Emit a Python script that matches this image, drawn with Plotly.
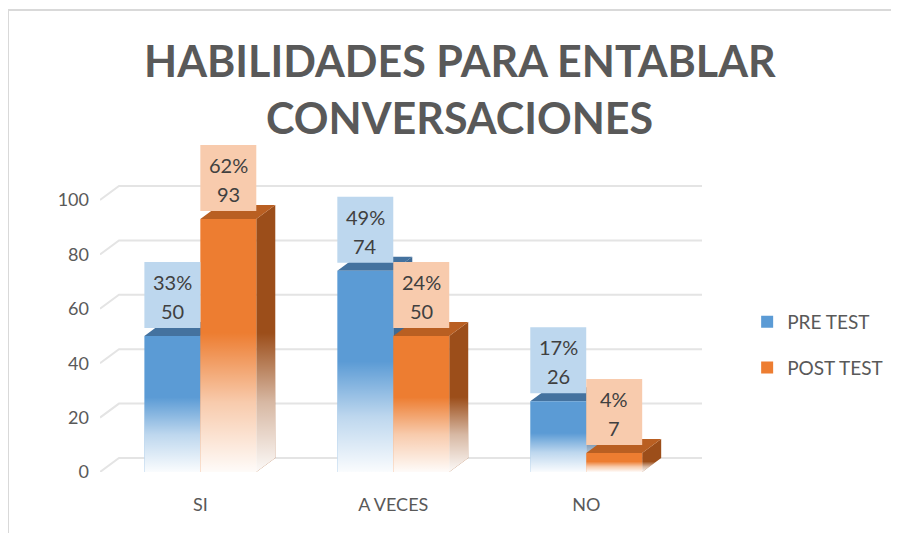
import plotly.graph_objects as go

# ---------------- data ----------------
categories = ["SI", "A VECES", "NO"]
series_names = ["PRE TEST", "POST TEST"]
pre_test = [50, 74, 26]
post_test = [93, 50, 7]
pre_pct = ["33%", "49%", "17%"]
post_pct = ["62%", "24%", "4%"]
y_ticks = [0, 20, 40, 60, 80, 100]
title_lines = ["HABILIDADES PARA ENTABLAR", "CONVERSACIONES"]

# ---------------- style ----------------
FONT = "Lato"
TXT = "#595959"
front_colors = ["#5B9BD5", "#ED7D31"]
top_colors = ["#44729F", "#B95F22"]
side_colors = ["#3F6A94", "#9C4E1A"]
label_bg = ["#BDD7EE", "#F8CBAD"]
BW = 0.29          # bar width (axis units)
DX = 19 / 193      # 3D depth offset, x (axis units)
DY = 14 / 2.717    # 3D depth offset, y (axis units)
XR = [-0.52, 2.6]
YR = [0, 125]

series_vals = [pre_test, post_test]
series_pct = [pre_pct, post_pct]
xpos = list(range(len(categories)))

fig = go.Figure()

# 3D back-wall gridlines
gx, gy = [], []
for v in y_ticks:
    gx += [XR[0], XR[0] + DX, XR[1], None]
    gy += [v, v + DY, v + DY, None]
fig.add_trace(go.Scatter(x=gx, y=gy, mode="lines", line=dict(color="#E4E4E4", width=2),
                         showlegend=False, hoverinfo="skip", zorder=0))

for s, vals in enumerate(series_vals):
    offs = -BW if s == 0 else 0.0
    sx, sy, tx, ty = [], [], [], []
    for i, v in enumerate(vals):
        l = xpos[i] + offs
        r = l + BW
        sx += [r, r + DX, r + DX, r, r, None]
        sy += [0, DY, v + DY, v, 0, None]
        tx += [l, l + DX, r + DX, r, l, None]
        ty += [v, v + DY, v + DY, v, v, None]
    fig.add_trace(go.Scatter(x=sx, y=sy, mode="lines", fill="toself", fillcolor=side_colors[s],
                             line=dict(width=0), showlegend=False, hoverinfo="skip",
                             zorder=10 * s + 1))
    fig.add_trace(go.Scatter(x=tx, y=ty, mode="lines", fill="toself", fillcolor=top_colors[s],
                             line=dict(width=0), showlegend=False, hoverinfo="skip",
                             zorder=10 * s + 1))
    fig.add_trace(go.Bar(x=xpos, y=vals, width=BW, offset=offs, name=series_names[s],
                         marker=dict(color=front_colors[s], line=dict(width=0)),
                         legendgroup=series_names[s], zorder=10 * s + 2, hoverinfo="skip"))
    # bottom fade overlays
    for i, v in enumerate(vals):
        l = xpos[i] + offs
        r = l + BW
        h = v * 0.55
        fig.add_trace(go.Scatter(
            x=[l, r, r + DX, r + DX, r, l, l],
            y=[0, 0, DY, h + DY, h, h, 0],
            mode="lines", fill="toself", line=dict(width=0),
            fillgradient=dict(type="vertical", start=0, stop=h,
                              colorscale=[[0, "rgba(255,255,255,0.97)"],
                                          [0.5, "rgba(255,255,255,0.6)"],
                                          [1, "rgba(255,255,255,0)"]]),
            showlegend=False, hoverinfo="skip", zorder=10 * s + 3))

# data label boxes and texts
shapes = []
annotations = []
for s, vals in enumerate(series_vals):
    offs = -BW if s == 0 else 0.0
    for i, v in enumerate(vals):
        l = xpos[i] + offs
        r = l + BW
        shapes.append(dict(type="rect", xref="x", yref="y", x0=l, x1=r,
                           ysizemode="pixel", yanchor=v, y0=8, y1=74,
                           fillcolor=label_bg[s], line=dict(width=0), layer="above"))
        annotations.append(dict(x=(l + r) / 2, y=v, xref="x", yref="y", text=series_pct[s][i],
                                showarrow=False, yanchor="middle", yshift=54,
                                font=dict(family=FONT, size=20, color="#404040")))
        annotations.append(dict(x=(l + r) / 2, y=v, xref="x", yref="y", text=str(v),
                                showarrow=False, yanchor="middle", yshift=25,
                                font=dict(family=FONT, size=20, color="#404040")))

# title
for t, yp in zip(title_lines, [1.209, 1.044]):
    annotations.append(dict(x=0.598, y=yp, xref="paper", yref="paper", text="<b>%s</b>" % t,
                            showarrow=False, xanchor="center", yanchor="middle",
                            font=dict(family=FONT, size=43, color=TXT)))

# outer chart frame (top and left edges visible)
shapes.append(dict(type="line", xref="paper", yref="paper", x0=-0.1528, x1=1.4, y0=1.359, y1=1.359,
                   line=dict(color="#D9D9D9", width=2), layer="below"))
shapes.append(dict(type="line", xref="paper", yref="paper", x0=-0.1528, x1=-0.1528, y0=1.359, y1=-0.3,
                   line=dict(color="#D9D9D9", width=2), layer="below"))

fig.update_layout(
    width=891, height=525,
    margin=dict(l=92, r=197, t=124, b=61, autoexpand=False),
    paper_bgcolor="white", plot_bgcolor="white",
    barmode="overlay",
    font=dict(family=FONT, color=TXT),
    shapes=shapes, annotations=annotations,
    hovermode=False,
    legend=dict(x=1.075, y=0.3735, xanchor="left", yanchor="middle",
                font=dict(family=FONT, size=19, color=TXT), tracegroupgap=18,
                bgcolor="rgba(0,0,0,0)"),
    xaxis=dict(range=XR, tickvals=xpos, ticktext=categories, showgrid=False, zeroline=False,
               showline=False, ticks="", tickfont=dict(family=FONT, size=18, color=TXT),
               ticklabelstandoff=20, fixedrange=True, automargin=False),
    yaxis=dict(range=YR, tickvals=y_ticks, showgrid=False, zeroline=False, showline=False,
               ticks="", tickfont=dict(family=FONT, size=18, color=TXT),
               ticklabelstandoff=10, fixedrange=True, automargin=False),
)

fig.write_html("out.html")
